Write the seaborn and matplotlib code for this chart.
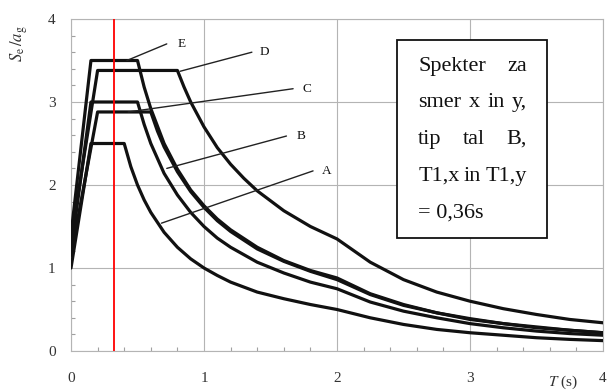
import matplotlib
matplotlib.use("Agg")
import matplotlib.pyplot as plt
from matplotlib.ticker import MultipleLocator
from matplotlib.patches import Rectangle
import seaborn as sns
import pandas as pd

# Elastični spekter odziva (EC8, tip 1) za tipe tal A-E, odčitano s slike
T_A = [0, 0.15, 0.4, 0.45, 0.5, 0.55, 0.6, 0.7, 0.8, 0.9, 1.0, 1.1, 1.2, 1.4, 1.6, 1.8, 2.0,
       2.25, 2.5, 2.75, 3.0, 3.25, 3.5, 3.75, 4.0]
Se_A = [1.0, 2.5, 2.5, 2.22, 2.0, 1.82, 1.67, 1.43, 1.25, 1.11, 1.0, 0.91, 0.83, 0.71, 0.63, 0.56, 0.5,
        0.40, 0.32, 0.26, 0.22, 0.19, 0.16, 0.14, 0.125]

T_B = [0, 0.15, 0.5, 0.55, 0.6, 0.7, 0.8, 0.9, 1.0, 1.1, 1.2, 1.4, 1.6, 1.8, 2.0,
       2.25, 2.5, 2.75, 3.0, 3.25, 3.5, 3.75, 4.0]
Se_B = [1.2, 3.0, 3.0, 2.73, 2.5, 2.14, 1.88, 1.67, 1.5, 1.36, 1.25, 1.07, 0.94, 0.83, 0.75,
        0.59, 0.48, 0.40, 0.33, 0.28, 0.24, 0.21, 0.19]

T_C = [0, 0.2, 0.6, 0.65, 0.7, 0.8, 0.9, 1.0, 1.1, 1.2, 1.4, 1.6, 1.8, 2.0,
       2.25, 2.5, 2.75, 3.0, 3.25, 3.5, 3.75, 4.0]
Se_C = [1.15, 2.88, 2.88, 2.65, 2.46, 2.16, 1.92, 1.73, 1.57, 1.44, 1.23, 1.08, 0.96, 0.86,
        0.68, 0.55, 0.46, 0.38, 0.33, 0.28, 0.25, 0.22]

T_D = [0, 0.2, 0.8, 0.85, 0.9, 1.0, 1.1, 1.2, 1.3, 1.4, 1.6, 1.8, 2.0,
       2.25, 2.5, 2.75, 3.0, 3.25, 3.5, 3.75, 4.0]
Se_D = [1.35, 3.38, 3.38, 3.18, 3.0, 2.7, 2.45, 2.25, 2.08, 1.93, 1.69, 1.5, 1.35,
        1.07, 0.86, 0.71, 0.6, 0.51, 0.44, 0.38, 0.34]

T_E = [0, 0.15, 0.5, 0.55, 0.6, 0.7, 0.8, 0.9, 1.0, 1.1, 1.2, 1.4, 1.6, 1.8, 2.0,
       2.25, 2.5, 2.75, 3.0, 3.25, 3.5, 3.75, 4.0]
Se_E = [1.4, 3.5, 3.5, 3.18, 2.92, 2.5, 2.19, 1.94, 1.75, 1.59, 1.46, 1.25, 1.09, 0.97, 0.88,
        0.69, 0.56, 0.46, 0.39, 0.33, 0.29, 0.25, 0.22]

tla = ["A", "B", "C", "D", "E"]
T1 = 0.32  # rdeča črta (nihajni čas konstrukcije)

box_lines = [["Spekter", "za"],
             ["smer", "x", "in", "y,"],
             ["tip", "tal", "B,"],
             ["T1,x", "in", "T1,y"],
             ["= 0,36s"]]

# postavitev oznak in kazalnih črt (T, Se)
lab_pos = {"A": (1.89, 2.17), "B": (1.70, 2.59), "C": (1.74, 3.16), "D": (1.42, 3.60), "E": (0.80, 3.70)}
lead_start = {"A": (0.68, 1.54), "B": (0.72, 2.20), "C": (0.43, 2.88), "D": (0.82, 3.37), "E": (0.42, 3.50)}
lead_end = {"A": (1.82, 2.17), "B": (1.62, 2.59), "C": (1.67, 3.16), "D": (1.36, 3.60), "E": (0.72, 3.70)}

sns.set_theme(style="white")
plt.rcParams['font.family'] = ['Liberation Serif', 'DejaVu Serif']
plt.rcParams['mathtext.fontset'] = 'stix'

frames = []
for name, t, s in zip(tla, [T_A, T_B, T_C, T_D, T_E], [Se_A, Se_B, Se_C, Se_D, Se_E]):
    frames.append(pd.DataFrame({"T": t, "Se": s, "tla": name}))
df = pd.concat(frames, ignore_index=True)

fig = plt.figure(figsize=(6.07, 3.92), dpi=100)
ax = fig.add_axes([71 / 607, 1 - 351 / 392, (603 - 71) / 607, (351 - 19) / 392])

sns.lineplot(data=df, x="T", y="Se", units="tla", estimator=None, color="#111111",
             linewidth=2.3, ax=ax, zorder=3)

ax.axvline(T1, color="#ff0000", linewidth=1.3, zorder=4)

for k in tla:
    (x0, y0), (x1, y1) = lead_start[k], lead_end[k]
    ax.plot([x0, x1], [y0, y1], color="#222222", linewidth=1.0, zorder=3)
    ax.text(lab_pos[k][0], lab_pos[k][1], k, fontsize=9.5, ha="left", va="center", color="#111111")

ax.set_xlim(0, 4)
ax.set_ylim(0, 4)
ax.xaxis.set_major_locator(MultipleLocator(1))
ax.yaxis.set_major_locator(MultipleLocator(1))
ax.xaxis.set_minor_locator(MultipleLocator(0.2))
ax.yaxis.set_minor_locator(MultipleLocator(0.2))
ax.grid(True, which="major", color="#b4b4b4", linewidth=0.8, zorder=0)
ax.tick_params(which="major", direction="out", length=4, width=0.8, color="#a0a0a0",
               labelsize=11, labelcolor="#333333")
ax.tick_params(axis="x", which="major", pad=11)
ax.tick_params(axis="y", which="major", pad=7)
ax.tick_params(which="minor", direction="in", length=3, width=0.8, color="#a0a0a0",
               bottom=True, left=True)
for sp in ax.spines.values():
    sp.set_color("#b4b4b4")
    sp.set_linewidth(0.8)
ax.set_xlabel("")
ax.set_ylabel("")

fig.text(19 / 607, 1 - 44 / 392, r"$S_{\rm e}\,/a_{\rm g}$", rotation=90, fontsize=12,
         ha="center", va="center", color="#333333")
fig.text(563 / 607, 1 - 382 / 392, r"$T$ (s)", fontsize=11, ha="center", va="center", color="#333333")

# okvir z besedilom
ax.add_patch(Rectangle((2.45, 1.36), 1.13, 2.39, facecolor="white", edgecolor="#111111",
                       linewidth=1.3, zorder=5))
tx0, tx1 = 2.61, 3.43
baselines = [3.377, 2.934, 2.494, 2.048, 1.602]
fig.canvas.draw()
rend = fig.canvas.get_renderer()
px_per_unit = ax.get_window_extent().width / 4.0
for words, yb in zip(box_lines, baselines):
    texts = [ax.text(0, yb, w, fontsize=16, ha="left", va="baseline", zorder=6, color="#111111")
             for w in words]
    widths = [t.get_window_extent(renderer=rend).width / px_per_unit for t in texts]
    if len(words) == 1:
        texts[0].set_x(tx0)
        continue
    gap = (tx1 - tx0 - sum(widths)) / (len(words) - 1)
    x = tx0
    for t, w in zip(texts, widths):
        t.set_x(x)
        x += w + gap

fig.savefig("out.png", dpi=100)
